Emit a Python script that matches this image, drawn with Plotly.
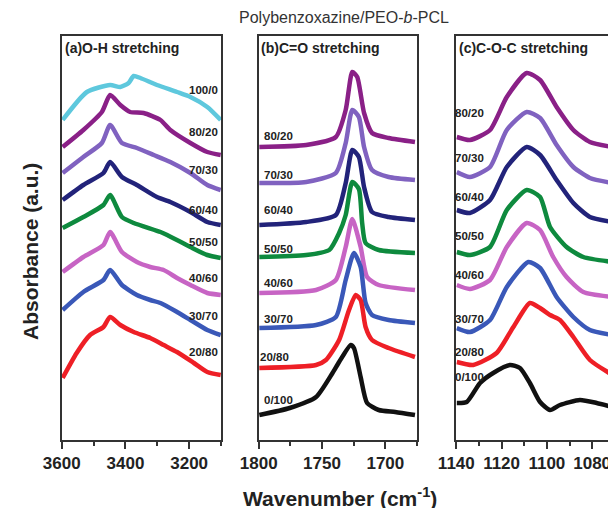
import plotly.graph_objects as go

# ---------------- data ----------------
ratios_a = ["100/0", "80/20", "70/30", "60/40", "50/50", "40/60", "30/70", "20/80"]
ratios_bc = ["80/20", "70/30", "60/40", "50/50", "40/60", "30/70", "20/80", "0/100"]

# (a) O-H stretching  (wavenumber, absorbance a.u., stacked)
oh_wn = {
    "100/0": [3597, 3521, 3448, 3416, 3390, 3374, 3353, 3301, 3238, 3196, 3143, 3101],
    "80/20": [3597, 3532, 3474, 3448, 3416, 3385, 3343, 3290, 3259, 3196, 3143, 3101],
    "70/30": [3597, 3532, 3474, 3448, 3411, 3364, 3311, 3259, 3196, 3143, 3101],
    "60/40": [3597, 3532, 3469, 3448, 3411, 3364, 3301, 3259, 3196, 3143, 3101],
    "50/50": [3597, 3532, 3469, 3448, 3411, 3374, 3290, 3269, 3196, 3143, 3101],
    "40/60": [3597, 3532, 3469, 3448, 3411, 3364, 3322, 3280, 3238, 3196, 3143, 3101],
    "30/70": [3597, 3532, 3469, 3448, 3411, 3364, 3322, 3290, 3238, 3196, 3143, 3101],
    "20/80": [3597, 3553, 3511, 3469, 3448, 3416, 3374, 3322, 3280, 3238, 3185, 3143, 3101],
}
oh_abs = {
    "100/0": [320, 348, 355, 353, 357, 364, 362, 355, 348, 343, 333, 320],
    "80/20": [293, 310, 328, 345, 335, 328, 327, 320, 310, 297, 288, 285],
    "70/30": [267, 283, 297, 315, 297, 292, 285, 278, 267, 255, 250],
    "60/40": [240, 255, 267, 278, 263, 255, 243, 238, 228, 218, 215],
    "50/50": [212, 223, 235, 245, 223, 217, 208, 205, 193, 185, 182],
    "40/60": [168, 183, 195, 208, 188, 178, 173, 170, 162, 155, 147, 145],
    "30/70": [130, 148, 160, 170, 155, 145, 140, 137, 128, 120, 110, 105],
    "20/80": [62, 87, 105, 113, 123, 115, 108, 102, 95, 88, 77, 68, 65],
}

# (b) C=O stretching
co_wn = {
    "80/20": [1799.5, 1762.5, 1739.1, 1731.3, 1726.1, 1722.2, 1716.8, 1710.5, 1697.4, 1676.6],
    "70/30": [1799.5, 1762.5, 1739.1, 1731.3, 1726.1, 1720.9, 1716.8, 1710.5, 1697.4, 1676.6],
    "60/40": [1799.5, 1762.5, 1739.1, 1731.3, 1726.1, 1720.9, 1716.8, 1710.5, 1697.4, 1676.6],
    "50/50": [1799.5, 1762.5, 1744.3, 1736.5, 1731.3, 1726.1, 1720.9, 1718.3, 1715.6, 1705.2, 1676.6],
    "40/60": [1799.5, 1754.7, 1739.1, 1731.3, 1726.1, 1719.5, 1714.4, 1705.2, 1676.6],
    "30/70": [1799.5, 1754.7, 1739.1, 1731.3, 1724.8, 1719.5, 1715.6, 1710.5, 1697.4, 1676.6],
    "20/80": [1799.5, 1754.7, 1746.9, 1736.5, 1728.7, 1723.4, 1719.5, 1715.6, 1710.5, 1697.4, 1676.6],
    "0/100": [1799.5, 1775.5, 1754.7, 1741.7, 1736.5, 1727.3, 1724.8, 1719.5, 1714.4, 1705.2, 1692.2, 1676.6],
}
co_abs = {
    "80/20": [293, 295, 303, 330, 368, 363, 327, 307, 302, 298],
    "70/30": [257, 258, 267, 297, 330, 323, 293, 270, 263, 260],
    "60/40": [215, 218, 225, 257, 290, 283, 253, 228, 223, 220],
    "50/50": [183, 185, 190, 207, 225, 258, 251, 217, 197, 190, 187],
    "40/60": [147, 150, 160, 193, 221, 193, 163, 155, 150],
    "30/70": [112, 115, 123, 160, 187, 173, 137, 125, 120, 117],
    "20/80": [72, 75, 80, 100, 130, 145, 140, 113, 100, 92, 83],
    "0/100": [25, 32, 43, 67, 78, 95, 92, 63, 37, 30, 28, 25],
}

# (c) C-O-C stretching
coc_wn = {
    "80/20": [1139.8, 1134.0, 1125.1, 1117.7, 1108.9, 1103.0, 1095.7, 1088.3, 1081.0, 1071],
    "70/30": [1139.8, 1134.0, 1125.1, 1117.7, 1108.9, 1103.0, 1095.7, 1088.3, 1081.0, 1071],
    "60/40": [1139.8, 1134.0, 1125.1, 1117.7, 1108.9, 1103.0, 1095.7, 1088.3, 1081.0, 1071],
    "50/50": [1139.8, 1134.0, 1125.1, 1117.7, 1108.9, 1103.0, 1098.6, 1091.3, 1083.9, 1071],
    "40/60": [1139.8, 1134.0, 1125.1, 1117.7, 1108.9, 1103.0, 1097.2, 1091.3, 1083.9, 1071],
    "30/70": [1139.8, 1134.0, 1125.1, 1117.7, 1108.2, 1103.0, 1095.7, 1088.3, 1081.0, 1071],
    "20/80": [1139.8, 1132.5, 1122.2, 1114.8, 1107.5, 1103.0, 1098.6, 1094.2, 1088.3, 1081.0, 1071],
    "0/100": [1139.8, 1135.4, 1129.5, 1123.7, 1116.3, 1111.9, 1107.5, 1103.0, 1098.6, 1094.2, 1085.4, 1078.0, 1071],
}
coc_abs = {
    "80/20": [303, 300, 310, 343, 367, 360, 333, 310, 298, 293],
    "70/30": [268, 263, 273, 310, 328, 322, 295, 273, 262, 257],
    "60/40": [230, 227, 240, 273, 293, 285, 260, 237, 223, 218],
    "50/50": [188, 185, 193, 230, 250, 243, 213, 193, 183, 178],
    "40/60": [155, 151, 160, 193, 217, 210, 183, 163, 148, 143],
    "30/70": [112, 108, 120, 153, 178, 172, 143, 123, 110, 105],
    "20/80": [78, 75, 87, 113, 137, 132, 125, 120, 103, 80, 65],
    "0/100": [37, 38, 57, 67, 75, 72, 57, 38, 30, 35, 40, 37, 33],
}

panel_titles = ["(a)O-H stretching", "(b)C=O stretching", "(c)C-O-C stretching"]
main_title = "Polybenzoxazine/PEO-<i>b</i>-PCL"
x_title = "Wavenumber (cm<sup>-1</sup>)"
y_title = "Absorbance (a.u.)"

# ---------------- styles ----------------
colors = {
    "100/0": "#5EC8DD", "80/20": "#8A2087", "70/30": "#8062C0", "60/40": "#22237A",
    "50/50": "#0E8A3E", "40/60": "#C764C4", "30/70": "#3A58B8", "20/80": "#EE1F26",
    "0/100": "#111111",
}
FONT = "Liberation Sans, Arial, sans-serif"
W, H = 608, 508

fig = go.Figure()

def add_panel(wn, ab, order, xa, ya):
    for r in order:
        fig.add_trace(go.Scatter(
            x=wn[r], y=ab[r], mode="lines", xaxis=xa, yaxis=ya,
            line=dict(color=colors[r], width=4.5, shape="spline", smoothing=0.6),
            showlegend=False, hoverinfo="skip"))

add_panel(oh_wn, oh_abs, ratios_a, "x", "y")
add_panel(co_wn, co_abs, ratios_bc, "x2", "y2")
add_panel(coc_wn, coc_abs, ratios_bc, "x3", "y3")

ydom = [1 - 440 / H, 1 - 36 / H]
axcol = "#333333"
tickfont = dict(family=FONT, size=17, color="#222222", weight="bold")

def xax(domain, rng, tickvals, minor_dtick, minor_tick0, anchor):
    return dict(domain=domain, range=rng, tickmode="array", tickvals=tickvals,
                anchor=anchor, automargin=False, ticklabeloverflow="allow",
                ticks="outside", ticklen=7, tickwidth=1.6, tickcolor=axcol,
                showline=True, linewidth=1.6, linecolor=axcol, mirror=True,
                showgrid=False, zeroline=False, tickfont=tickfont,
                minor=dict(tickmode="linear", dtick=minor_dtick, tick0=minor_tick0,
                           ticks="outside", ticklen=4, tickwidth=1.6, tickcolor=axcol,
                           showgrid=False))

def yax(anchor, mirror=True):
    return dict(domain=ydom, range=[0, 404], anchor=anchor, showticklabels=False,
                automargin=False, ticks="", showline=True, linewidth=1.6,
                linecolor=axcol, mirror=mirror, showgrid=False, zeroline=False)

fig.update_layout(
    template="none",
    width=W, height=H, margin=dict(l=0, r=0, t=0, b=0, pad=0, autoexpand=False),
    paper_bgcolor="white", plot_bgcolor="white",
    xaxis=xax([61.7 / W, 221 / W], [3600, 3100], [3600, 3400, 3200], 100, 3600, "y"),
    xaxis2=xax([258.7 / W, 417 / W], [1800, 1675], [1800, 1750, 1700], 25, 1800, "y2"),
    xaxis3=xax([456.3 / W, 1.0], [1140, 1073], [1140, 1120, 1100, 1080], 10, 1140, "y3"),
    yaxis=yax("x"),
    yaxis2=yax("x2"),
    yaxis3=yax("x3", mirror=False),
)

ann = []
# main title
ann.append(dict(text=main_title, x=344 / W, y=1 - 17 / H, xref="paper", yref="paper",
                showarrow=False, xanchor="center", yanchor="middle",
                font=dict(family=FONT, size=16, color="#333333")))
# axis titles
ann.append(dict(text=x_title, x=340 / W, y=1 - 497 / H, xref="paper", yref="paper",
                showarrow=False, xanchor="center", yanchor="middle",
                font=dict(family=FONT, size=21, color="#222222", weight="bold")))
ann.append(dict(text=y_title, x=30 / W, y=1 - 252 / H, xref="paper", yref="paper",
                showarrow=False, xanchor="center", yanchor="middle", textangle=-90,
                font=dict(family=FONT, size=21, color="#222222", weight="bold")))
# panel titles
for t, xl in zip(panel_titles, [62.5, 258.5, 457]):
    ann.append(dict(text=t, x=xl / W, y=1 - 47.5 / H, xref="paper", yref="paper",
                    showarrow=False, xanchor="left", yanchor="middle",
                    font=dict(family=FONT, size=14, color="#222222", weight="bold")))

lab_font = dict(family=FONT, size=11.5, color="#222222", weight="bold")
pos_a = {"100/0": 350, "80/20": 308, "70/30": 270, "60/40": 230,
         "50/50": 198, "40/60": 162, "30/70": 124, "20/80": 88}
for r in ratios_a:
    ann.append(dict(text=r, x=3154, y=pos_a[r], xref="x", yref="y", showarrow=False,
                    xanchor="center", yanchor="middle", font=lab_font))
pos_b = {"80/20": 304, "70/30": 265, "60/40": 230, "50/50": 191,
         "40/60": 157, "30/70": 121, "20/80": 83, "0/100": 40}
for r in ratios_bc:
    ann.append(dict(text=r, x=1787.5 if r == "20/80" else 1784.7, y=pos_b[r], xref="x2", yref="y2",
                    showarrow=False, xanchor="center", yanchor="middle", font=lab_font))
pos_c = {"80/20": 327, "70/30": 282, "60/40": 243, "50/50": 204,
         "40/60": 165, "30/70": 121, "20/80": 88, "0/100": 63}
for r in ratios_bc:
    ann.append(dict(text=r, x=1134, y=pos_c[r], xref="x3", yref="y3",
                    showarrow=False, xanchor="center", yanchor="middle", font=lab_font))

fig.update_layout(annotations=ann)
fig.write_html("out.html")
